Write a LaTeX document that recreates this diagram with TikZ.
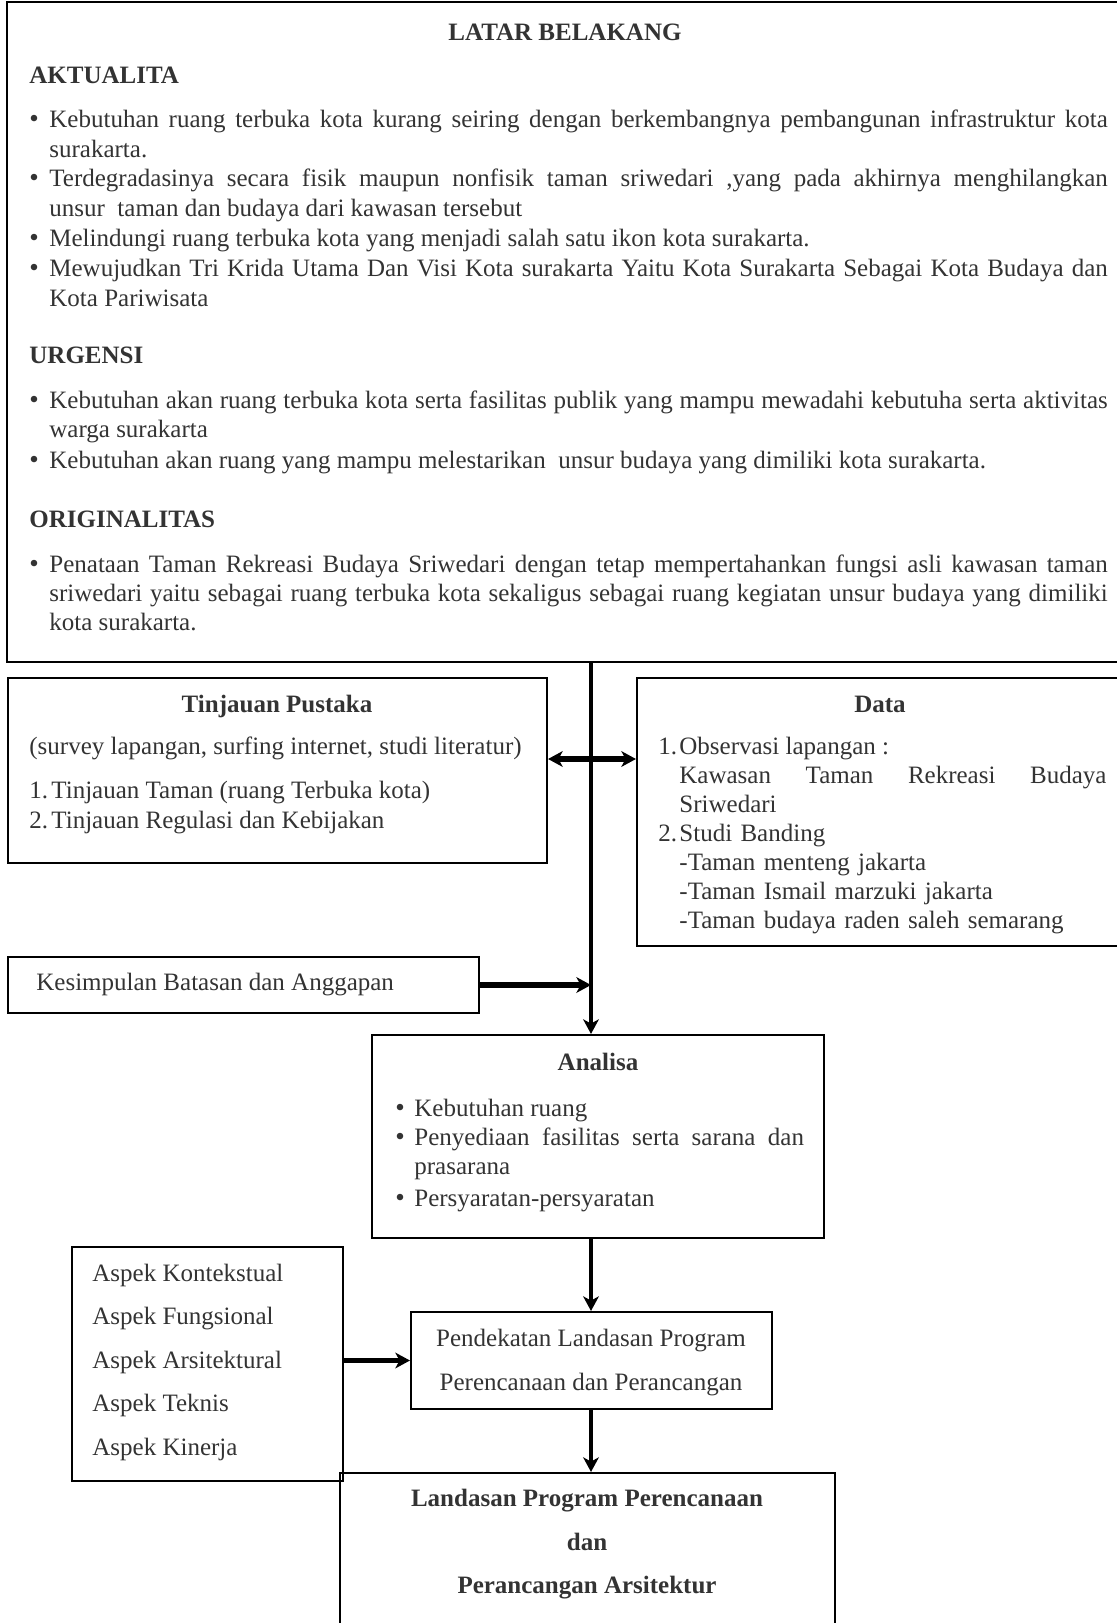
\documentclass[tikz,border=0pt]{standalone}
\usepackage{fontspec}
\setmainfont{Liberation Serif}
\usetikzlibrary{arrows.meta,fit}

\begin{document}
\begin{tikzpicture}[x=0.48pt, y=-0.48pt,
		kotak/.style={draw=black, line width=1pt, inner sep=0pt},
		teks/.style={inner sep=0pt, anchor=base west, text=black!80, font=\fontsize{12}{14}\selectfont},
		judul/.style={teks, anchor=base, font=\fontsize{12}{14}\selectfont\bfseries},
		titik/.style={teks, font=\fontsize{13}{14}\selectfont},
		paragraf/.style={teks, text width=#1, align=justify},
		panah/.style={-{Stealth[length=7pt, width=7.5pt, inset=2pt]}},
		tebal/.style={panah, line width=2.6pt},
		tipis/.style={panah, line width=1.5pt}]
		%%%%% START %%%%%
		
		\useasboundingbox (0, 0) rectangle (1117, 1623);
		\clip (0, 0) rectangle (1117, 1623);
		
		% kotak-kotak
		\node[kotak, fit={(7, 2) (1130, 662)}] (latar) {};
		\node[kotak, fit={(8, 678) (547, 863)}] (tinjauan) {};
		\node[kotak, fit={(637, 678) (1130, 946)}] (data) {};
		\node[kotak, fit={(8, 957) (479, 1013)}] (kesimpulan) {};
		\node[kotak, fit={(372, 1035) (824, 1238)}] (analisa) {};
		\node[kotak, fit={(72, 1247) (343, 1481)}] (aspek) {};
		\node[kotak, fit={(411, 1312) (772, 1409)}] (pendekatan) {};
		\node[kotak, fit={(340, 1473) (835, 1700)}] (landasan) {};
		
		% latar belakang
		\node[judul] (latarjudul) at (565, 41) {LATAR BELAKANG};
		\node[teks, font=\fontsize{12}{14}\selectfont\bfseries] (aktualita) at (29, 84) {AKTUALITA};
		\node[titik] (akt1b) at (29, 128) {\textbullet};
		\node[paragraf=508pt] (akt1) at (49, 128) {Kebutuhan ruang terbuka kota kurang seiring dengan berkembangnya pembangunan infrastruktur kota\linebreak surakarta.};
		\node[titik] (akt2b) at (29, 187) {\textbullet};
		\node[paragraf=508pt] (akt2) at (49, 187) {Terdegradasinya secara fisik maupun nonfisik taman sriwedari ,yang pada akhirnya menghilangkan\linebreak unsur~ taman dan budaya dari kawasan tersebut};
		\node[titik] (akt3b) at (29, 247) {\textbullet};
		\node[teks] (akt3) at (49, 247) {Melindungi ruang terbuka kota yang menjadi salah satu ikon kota surakarta.};
		\node[titik] (akt4b) at (29, 277) {\textbullet};
		\node[paragraf=508pt] (akt4) at (49, 277) {Mewujudkan Tri Krida Utama Dan Visi Kota surakarta Yaitu Kota Surakarta Sebagai Kota Budaya dan\linebreak Kota Pariwisata};
		
		\node[teks, font=\fontsize{12}{14}\selectfont\bfseries] (urgensi) at (29, 364) {URGENSI};
		\node[titik] (urg1b) at (29, 408) {\textbullet};
		\node[paragraf=508pt] (urg1) at (49, 408) {Kebutuhan akan ruang terbuka kota serta fasilitas publik yang mampu mewadahi kebutuha serta aktivitas\linebreak warga surakarta};
		\node[titik] (urg2b) at (29, 468) {\textbullet};
		\node[teks] (urg2) at (49, 468) {Kebutuhan akan ruang yang mampu melestarikan~ unsur budaya yang dimiliki kota surakarta.};
		
		\node[teks, font=\fontsize{12}{14}\selectfont\bfseries] (originalitas) at (29, 527) {ORIGINALITAS};
		\node[titik] (ori1b) at (29, 572) {\textbullet};
		\node[paragraf=508pt] (ori1) at (49, 572) {Penataan Taman Rekreasi Budaya Sriwedari dengan tetap mempertahankan fungsi asli kawasan taman\linebreak sriwedari yaitu sebagai ruang terbuka kota sekaligus sebagai ruang kegiatan unsur budaya yang dimiliki\linebreak kota surakarta.};
		
		% tinjauan pustaka
		\node[judul] (tinjauanjudul) at (277, 712) {Tinjauan Pustaka};
		\node[teks] (survey) at (29, 754) {(survey lapangan, surfing internet, studi literatur)};
		\node[teks] (tin1n) at (29, 798) {1.};
		\node[teks] (tin1) at (51, 798) {Tinjauan Taman (ruang Terbuka kota)};
		\node[teks] (tin2n) at (29, 828) {2.};
		\node[teks] (tin2) at (51, 828) {Tinjauan Regulasi dan Kebijakan};
		
		% data
		\node[judul] (datajudul) at (880, 712) {Data};
		\node[teks] (dat1n) at (658, 754) {1.};
		\node[paragraf=205pt] (dat1) at (679, 754) {Observasi lapangan :\\ Kawasan Taman Rekreasi Budaya\linebreak Sriwedari};
		\node[teks] (dat2n) at (658, 841) {2.};
		\node[teks, text width=205pt, align=left] (dat2) at (679, 841) {Studi Banding\\-Taman menteng jakarta\\-Taman Ismail marzuki jakarta\\-Taman budaya raden saleh semarang};
		
		\node[teks] (kesimpulanteks) at (36, 990) {Kesimpulan Batasan dan Anggapan};
		
		% analisa
		\node[judul] (analisajudul) at (598, 1070) {Analisa};
		\node[titik] (ana1b) at (395, 1116) {\textbullet};
		\node[teks] (ana1) at (414, 1116) {Kebutuhan ruang};
		\node[titik] (ana2b) at (395, 1145) {\textbullet};
		\node[paragraf=187pt] (ana2) at (414, 1145) {Penyediaan fasilitas serta sarana dan\linebreak prasarana};
		\node[titik] (ana3b) at (395, 1206) {\textbullet};
		\node[teks] (ana3) at (414, 1206) {Persyaratan-persyaratan};
		
		% aspek
		\foreach \nama [count=\i] in {Kontekstual, Fungsional, Arsitektural, Teknis, Kinerja}
			\node[teks] (aspek\i) at (92, {1281+43.5*(\i-1)}) {Aspek \nama};
		
		\node[teks, anchor=base] (pend1) at (591, 1346) {Pendekatan Landasan Program};
		\node[teks, anchor=base] (pend2) at (591, 1390) {Perencanaan dan Perancangan};
		
		\node[judul] (land1) at (587, 1506) {Landasan Program Perencanaan};
		\node[judul] (land2) at (587, 1550) {dan};
		\node[judul] (land3) at (587, 1593) {Perancangan Arsitektur};
		
		% panah
		\coordinate (tulang) at (591, 662);
		\coordinate (dua) at (591, 759);
		\draw[tipis] (tulang) -- (tulang |- analisa.north);
		\draw[tebal, {Stealth[length=7pt, width=7.5pt, inset=2pt]}-{Stealth[length=7pt, width=7.5pt, inset=2pt]}] (dua -| tinjauan.east) -- (dua -| data.west);
		\draw[tebal] (kesimpulan.east) -- (kesimpulan.east -| tulang);
		\draw[tipis] (analisa.south -| tulang) -- (pendekatan.north -| tulang);
		\draw[tebal] (pendekatan.west -| aspek.east) -- (pendekatan.west);
		\draw[tipis] (pendekatan.south -| tulang) -- (landasan.north -| tulang);
		
		%%%%% END %%%%%
	\end{tikzpicture}
\end{document}
